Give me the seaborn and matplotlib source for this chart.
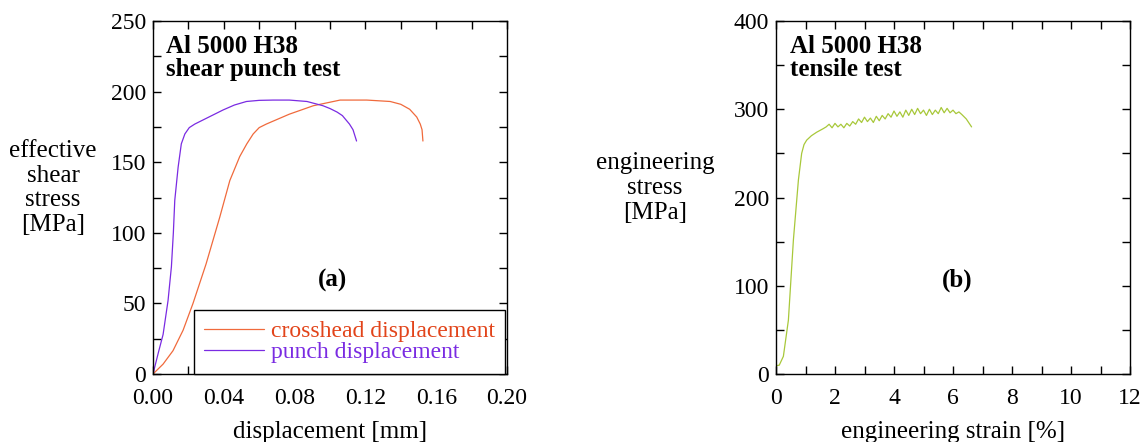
import pandas as pd
import matplotlib
matplotlib.use('Agg')
import seaborn as sns
import matplotlib.pyplot as plt
from matplotlib.ticker import MultipleLocator

# (a) shear punch test, effective shear stress vs displacement
punch_disp = [0.0, 0.003, 0.0057, 0.0085, 0.0104, 0.0115, 0.0123, 0.0142, 0.016, 0.018,
              0.0205, 0.0236, 0.030, 0.0396, 0.046, 0.0528, 0.060, 0.068, 0.077, 0.087,
              0.096, 0.100, 0.104, 0.107, 0.109, 0.111, 0.113, 0.115]
punch_stress = [0, 15, 28, 52, 76, 100, 123, 146.5, 163, 170,
                174.5, 177, 181, 187, 190.5, 193, 193.8, 194, 194, 193,
                190, 188, 185.5, 183, 180, 177, 173, 165]

cross_disp = [0.0, 0.0057, 0.0113, 0.017, 0.0226, 0.030, 0.0377, 0.0434, 0.049, 0.053,
              0.0566, 0.060, 0.064, 0.077, 0.0906, 0.1057, 0.1208, 0.134, 0.140, 0.145,
              0.149, 0.151, 0.152, 0.1525]
cross_stress = [0, 7, 16.5, 31, 50, 78, 111, 137, 154, 163,
                170, 174.5, 177, 184, 190, 194, 194, 193, 191, 187.5,
                182, 177, 173, 165]

# (b) tensile test, engineering stress vs strain
strain = [0.0, 0.11, 0.25, 0.42, 0.59, 0.76, 0.87, 0.95, 1.04, 1.2, 1.38, 1.6,
          1.7, 1.8, 1.9, 2.0, 2.1, 2.2, 2.3, 2.4, 2.5, 2.6,
          2.7, 2.8, 2.9, 3.0, 3.1, 3.2, 3.3, 3.4, 3.5, 3.6,
          3.7, 3.8, 3.9, 4.0, 4.1, 4.2, 4.3, 4.4, 4.5, 4.6,
          4.7, 4.8, 4.9, 5.0, 5.1, 5.2, 5.3, 5.4, 5.5, 5.6,
          5.7, 5.8, 5.9, 6.0, 6.1, 6.2, 6.3, 6.45, 6.55, 6.63]
stress = [9.4, 10, 20, 61, 152, 220, 250, 260, 265, 270, 274, 278,
          280, 283, 279, 284, 280, 283, 279, 284, 281, 286,
          283, 289, 285, 291, 286, 290, 285, 292, 287, 293,
          289, 295, 291, 298, 292, 297, 291, 299, 293, 300,
          294, 301, 295, 299, 293, 300, 294, 299, 295, 302,
          296, 301, 296, 299, 295, 297, 294, 289, 284, 280]

orange = '#f06a3c'
orange_txt = '#e2441a'
purple = '#7a2be2'
green = '#a8c83a'

sns.set_style('ticks')
plt.rcParams['font.family'] = ['Liberation Serif', 'DejaVu Serif']
plt.rcParams['text.color'] = 'black'
plt.rcParams['axes.labelcolor'] = 'black'

fig = plt.figure(figsize=(11.48, 4.42), dpi=100)
ax1 = fig.add_axes([153 / 1148, 1 - 374 / 442, 354 / 1148, 353 / 442])
ax2 = fig.add_axes([776 / 1148, 1 - 374 / 442, 354 / 1148, 353 / 442])

sns.lineplot(x=cross_disp, y=cross_stress, ax=ax1, color=orange, lw=0.9,
             sort=False, estimator=None, label='crosshead displacement')
sns.lineplot(x=punch_disp, y=punch_stress, ax=ax1, color=purple, lw=0.9,
             sort=False, estimator=None, label='punch displacement')
sns.lineplot(x=strain, y=stress, ax=ax2, color=green, lw=0.9,
             sort=False, estimator=None)

ax1.set_xlim(0, 0.2)
ax1.set_ylim(0, 250)
ax1.xaxis.set_major_locator(MultipleLocator(0.04))
ax1.xaxis.set_minor_locator(MultipleLocator(0.02))
ax1.yaxis.set_major_locator(MultipleLocator(50))
ax1.yaxis.set_minor_locator(MultipleLocator(25))
ax1.xaxis.set_major_formatter(matplotlib.ticker.FormatStrFormatter('%.2f'))

ax2.set_xlim(0, 12)
ax2.set_ylim(0, 400)
ax2.xaxis.set_major_locator(MultipleLocator(2))
ax2.xaxis.set_minor_locator(MultipleLocator(1))
ax2.yaxis.set_major_locator(MultipleLocator(100))
ax2.yaxis.set_minor_locator(MultipleLocator(50))

for ax in (ax1, ax2):
	for s in ax.spines.values():
		s.set_visible(True)
		s.set_linewidth(1.0)
		s.set_color('black')
	ax.tick_params(which='both', direction='in', top=True, right=True,
	               length=6, width=1.0, color='black')
	ax.tick_params(axis='y', which='major', labelsize=17, pad=5, labelcolor='black')
	ax.tick_params(axis='x', which='major', labelsize=17, pad=10, labelcolor='black')

ax1.set_xlabel('displacement [mm]', fontsize=18, labelpad=9)
ax1.set_ylabel('effective\nshear\nstress\n[MPa]', fontsize=18, rotation=0,
               ha='center', va='center', linespacing=1.15)
ax1.yaxis.set_label_coords(-0.282, 0.527)

ax2.set_xlabel('engineering strain [%]', fontsize=18, labelpad=9)
ax2.set_ylabel('engineering\nstress\n[MPa]', fontsize=18, rotation=0,
               ha='center', va='center', linespacing=1.15)
ax2.yaxis.set_label_coords(-0.342, 0.527)

ax1.text(0.037, 0.96, 'Al 5000 H38\nshear punch test', transform=ax1.transAxes,
         fontsize=18, fontweight='bold', va='top', ha='left', linespacing=1.0)
ax2.text(0.04, 0.96, 'Al 5000 H38\ntensile test', transform=ax2.transAxes,
         fontsize=18, fontweight='bold', va='top', ha='left', linespacing=1.0)
ax1.text(0.508, 0.266, '(a)', transform=ax1.transAxes, fontsize=18,
         fontweight='bold', ha='center', va='center')
ax2.text(0.511, 0.266, '(b)', transform=ax2.transAxes, fontsize=18,
         fontweight='bold', ha='center', va='center')

leg = ax1.legend(loc='lower right', bbox_to_anchor=(0.995, 0.0), fontsize=17,
                 frameon=True, fancybox=False, edgecolor='black', framealpha=1,
                 handlelength=2.5, handletextpad=0.3, borderaxespad=0,
                 borderpad=0.45, labelspacing=0.0)
leg.get_frame().set_linewidth(1.0)
for t, c in zip(leg.get_texts(), [orange_txt, purple]):
	t.set_color(c)

plt.savefig('out.png', dpi=100)
